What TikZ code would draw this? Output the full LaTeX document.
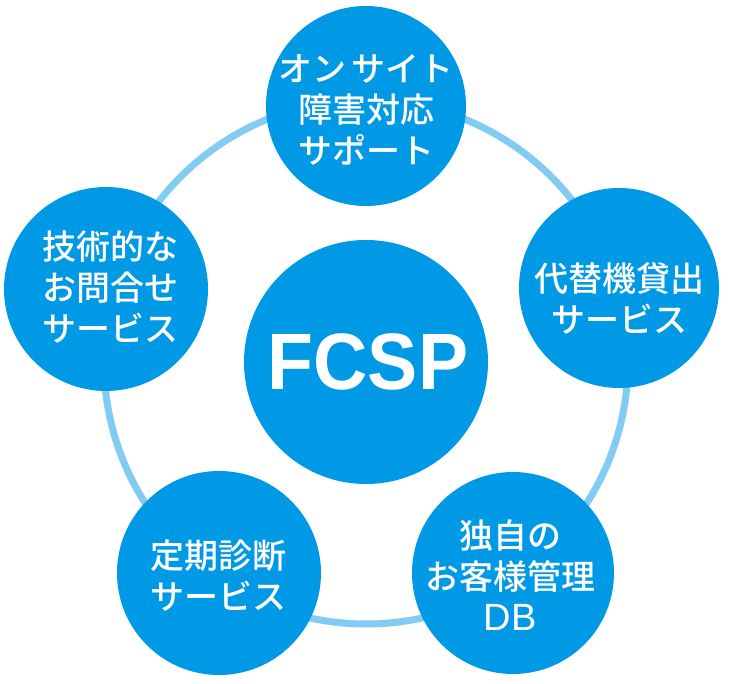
\documentclass[tikz,border=0pt]{standalone}
\usepackage{fontspec}
\setmainfont{Liberation Sans}
\newfontfamily\jpfont{Noto Sans CJK JP}[BoldFont={Noto Sans CJK JP Medium}]
\definecolor{bubble}{HTML}{0099E6}
\definecolor{ringc}{HTML}{82CCF3}
\begin{document}
\begin{tikzpicture}[x=1pt,y=-1pt,
  bubble/.style={circle,fill=bubble,draw=none,inner sep=0pt},
  jtext/.style={text=white,align=center,inner sep=0pt,font=\jpfont\bfseries\fontsize{34}{41}\selectfont},
  bigtext/.style={text=white,inner sep=0pt,font=\bfseries\fontsize{80}{80}\selectfont}]
\useasboundingbox (0,0) rectangle (732,684);
\coordinate (c) at (366,362);
\draw[ringc,line width=7pt] (c) circle (262);
\node[bubble,minimum size=200pt] (top) at (366,106) {};
\node[bubble,minimum size=200pt] (right) at (619,288) {};
\node[bubble,minimum size=204pt] (left) at (106,289) {};
\node[bubble,minimum size=204pt] (bl) at (219,573) {};
\node[bubble,minimum size=202pt] (br) at (513,573) {};
\node[bubble,minimum size=244pt] (center) at (366,362) {};
\node[bigtext] (tc) at (368,362) {\scalebox{0.94}[1]{FCSP}};
\node[jtext] (tt) at (366,110) {オン\hspace{6pt}サイト\\障害対応\\サポート};
\node[jtext] (tr) at (619,298) {代替機貸出\\サービス};
\node[jtext] (tl) at (110,287) {技術的な\\お問合せ\\サービス};
\node[jtext] (tbl) at (218,576) {定期診断\\サービス};
\node[jtext] (tbr) at (510,575) {独自の\\お客様管理\\{\normalfont\fontsize{38}{41}\selectfont DB}};
\end{tikzpicture}
\end{document}
